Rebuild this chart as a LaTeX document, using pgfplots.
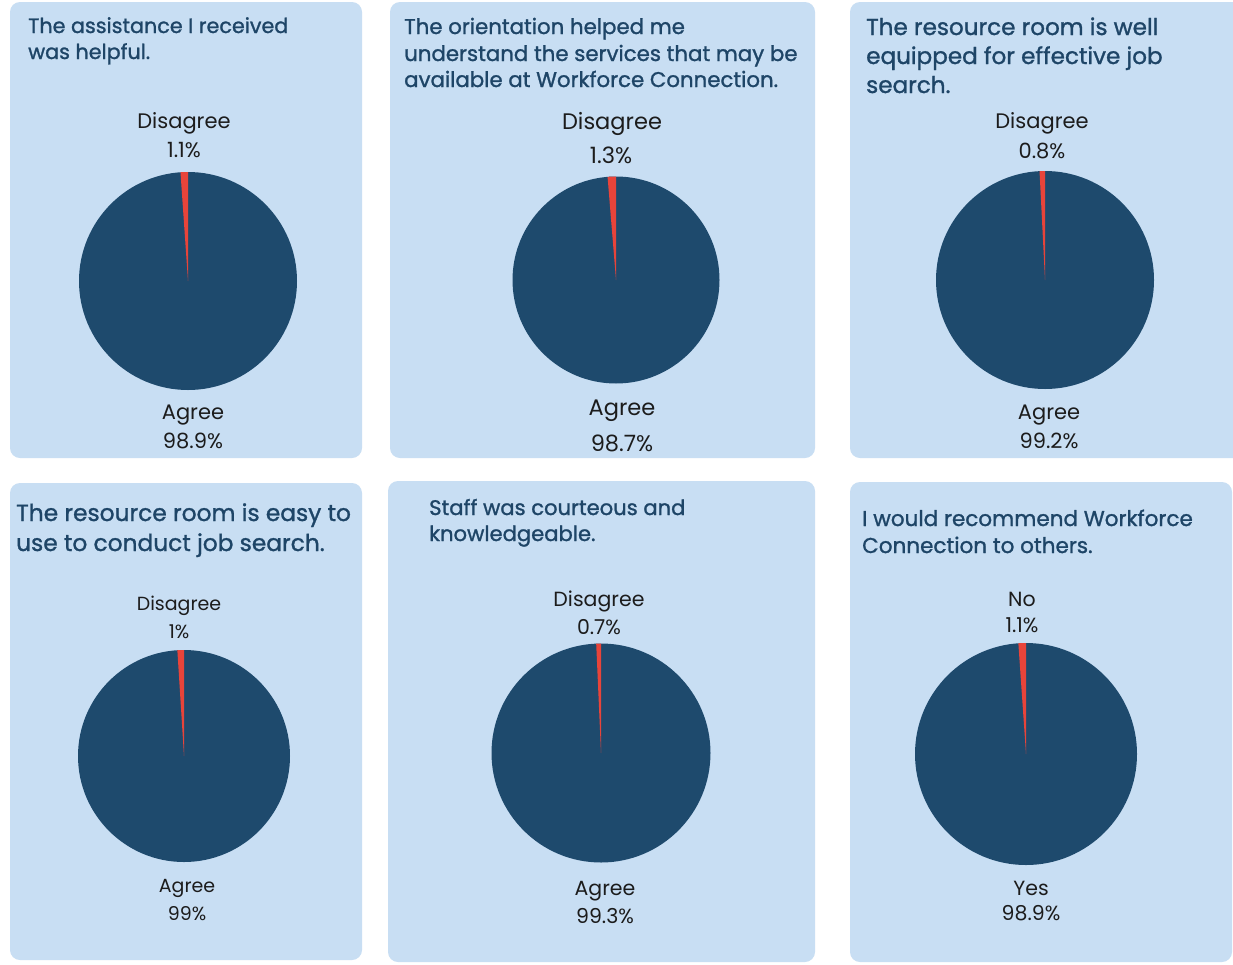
\documentclass[border=0pt]{standalone}
\usepackage{pgfplots}
\usepackage{pgfplotstable}
\pgfplotsset{compat=1.18}
\usepackage{fontspec}
\setmainfont{Poppins}
\newfontfamily\titlefont[FakeBold=1.2]{Poppins}
\definecolor{panelbg}{HTML}{C8DEF3}
\definecolor{pienavy}{HTML}{1E4A6D}
\definecolor{piered}{HTML}{E8443A}
\definecolor{titlec}{HTML}{1E4567}
\definecolor{labc}{HTML}{1C1C1C}

% row: id, minor share (%), major share (%)
\pgfplotstableread{
id minor major
0 1.1 98.9
1 1.3 98.7
2 0.8 99.2
3 1 99
4 0.7 99.3
5 1.1 98.9
}\piedata

% #1 cx, #2 cy, #3 diameter, #4 row
\newcommand\pie[4]{%
  \pgfplotstablegetelem{#4}{minor}\of\piedata
  \edef\minorval{\pgfplotsretval}%
  \begin{axis}[at={(#1pt,-#2pt)}, anchor=center, scale only axis,
    width=#3pt, height=#3pt, xmin=-1, xmax=1, ymin=-1, ymax=1,
    hide axis, clip=false]
    \addplot[draw=none] coordinates {(0,0)};
    \fill[pienavy] (axis cs:0,0) circle[radius=1];
    \fill[piered] (axis cs:0,0)
      -- (axis cs:{cos(90+3.6*\minorval)},{sin(90+3.6*\minorval)})
      -- (axis cs:{cos(90+2.7*\minorval)},{sin(90+2.7*\minorval)})
      -- (axis cs:{cos(90+1.8*\minorval)},{sin(90+1.8*\minorval)})
      -- (axis cs:{cos(90+0.9*\minorval)},{sin(90+0.9*\minorval)})
      -- (axis cs:0,1) -- cycle;
  \end{axis}%
}

\newcommand\fs[1]{\fontsize{#1}{#1}\selectfont}
\newcommand\tf[1]{\titlefont\fontsize{#1}{#1}\selectfont}

\begin{document}
\begin{tikzpicture}[x=1pt,y=1pt]
\path[use as bounding box] (0,0) rectangle (1233,-964);
\fill[white] (0,0) rectangle (1233,-964);
% panels
\fill[panelbg, rounded corners=10pt] (10,-2) rectangle (362,-458);
\fill[panelbg, rounded corners=10pt] (390,-2) rectangle (815,-458);
\fill[panelbg, rounded corners=10pt] (850,-2) rectangle (1245,-458);
\fill[panelbg, rounded corners=10pt] (10,-483) rectangle (362,-960);
\fill[panelbg, rounded corners=10pt] (388,-481) rectangle (815,-962);
\fill[panelbg, rounded corners=10pt] (850,-482) rectangle (1232,-962);

% pies
\pie{188}{281}{218}{0}
\pie{616}{280}{207}{1}
\pie{1045}{280}{218}{2}
\pie{184}{756}{212}{3}
\pie{601}{753}{219}{4}
\pie{1026}{754}{222}{5}

% titles
\begin{scope}[every node/.style={anchor=base west, inner sep=0pt, text=titlec}]
\node[font=\tf{20.7}] at (28,-33) {The assistance I received};
\node[font=\tf{20.7}] at (28,-59) {was helpful.};
\node[font=\tf{21.3}] at (404,-34) {The orientation helped me};
\node[font=\tf{21.3}] at (404,-61) {understand the services that may be};
\node[font=\tf{21.3}] at (404,-87) {available at Workforce Connection.};
\node[font=\tf{23.1}] at (866,-35) {The resource room is well};
\node[font=\tf{23.1}] at (866,-64) {equipped for effective job};
\node[font=\tf{23.1}] at (866,-93) {search.};
\node[font=\tf{23.3}] at (16,-521) {The resource room is easy to};
\node[font=\tf{23.3}] at (16,-551) {use to conduct job search.};
\node[font=\tf{21.1}] at (429,-515) {Staff was courteous and};
\node[font=\tf{21.1}] at (429,-541) {knowledgeable.};
\node[font=\tf{21.5}] at (862,-526) {I would recommend Workforce};
\node[font=\tf{21.5}] at (862,-553) {Connection to others.};
\end{scope}

% slice labels
\begin{scope}[every node/.style={anchor=base, inner sep=0pt, text=labc}]
\node[font=\fs{21}] at (184,-128) {Disagree};
\node[font=\fs{21}] at (184,-157) {1.1\%};
\node[font=\fs{21}] at (193,-419) {Agree};
\node[font=\fs{21}] at (193,-448) {98.9\%};
\node[font=\fs{22.5}] at (612,-129) {Disagree};
\node[font=\fs{22.5}] at (611,-163) {1.3\%};
\node[font=\fs{22.5}] at (622,-415) {Agree};
\node[font=\fs{22.5}] at (622,-451) {98.7\%};
\node[font=\fs{21}] at (1042,-128) {Disagree};
\node[font=\fs{21}] at (1042,-158) {0.8\%};
\node[font=\fs{21}] at (1049,-419) {Agree};
\node[font=\fs{21}] at (1049,-448) {99.2\%};
\node[font=\fs{19}] at (179,-610) {Disagree};
\node[font=\fs{19}] at (179,-638) {1\%};
\node[font=\fs{19}] at (187,-892) {Agree};
\node[font=\fs{19}] at (187,-920) {99\%};
\node[font=\fs{20.5}] at (599,-606) {Disagree};
\node[font=\fs{20.5}] at (599,-634) {0.7\%};
\node[font=\fs{20.5}] at (605,-895) {Agree};
\node[font=\fs{20.5}] at (605,-923) {99.3\%};
\node[font=\fs{20.5}] at (1022,-606) {No};
\node[font=\fs{20.5}] at (1022,-632) {1.1\%};
\node[font=\fs{20.5}] at (1031,-895) {Yes};
\node[font=\fs{20.5}] at (1031,-920) {98.9\%};
\end{scope}
\end{tikzpicture}
\end{document}
